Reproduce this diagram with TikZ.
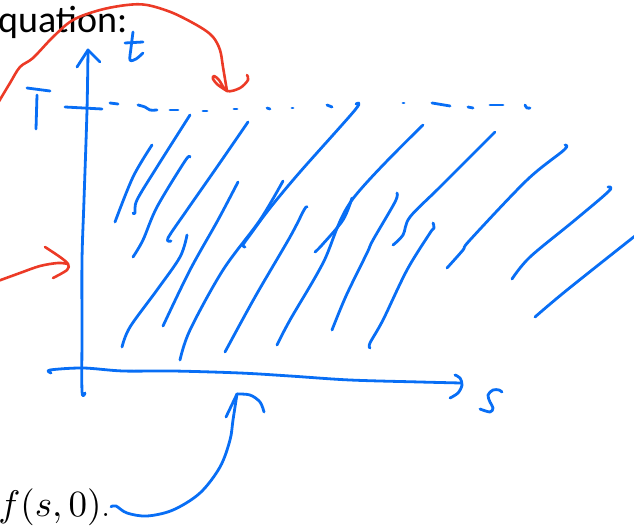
\documentclass[tikz,border=0pt]{standalone}
\usepackage{fontspec}
\DeclareFontShape{OML}{cmm}{m}{it}{<->cmmi10}{}
\DeclareFontShape{OT1}{cmr}{m}{n}{<->cmr10}{}
\DeclareFontShape{OMS}{cmsy}{m}{n}{<->cmsy10}{}
\newfontfamily\slidefont{Carlito}
\definecolor{inkblue}{RGB}{8,110,245}
\definecolor{inkred}{RGB}{236,58,38}
\tikzset{
  pen/.style={draw=inkblue, line width=2.8pt, line cap=round, line join=round},
  redpen/.style={draw=inkred, line width=2.6pt, line cap=round, line join=round},
  sm/.style={smooth, tension=0.55}
}
\begin{document}
\begin{tikzpicture}[x=1pt,y=-1pt]
\useasboundingbox (0,0) rectangle (634,526);
% texts
\node[anchor=base west, inner sep=0pt] (eq) at (-2,33) {\slidefont\fontsize{38}{42}\selectfont quation:};
\node[anchor=base east, inner sep=0pt] (fs) at (111,516) {\fontsize{37}{42}\selectfont $f(s,0)$.};
% vertical axis
\draw[pen] plot[sm] coordinates {(88,50) (87,110) (84,200) (82,260) (82,330) (82,391) (85,393)};
\draw[pen] (77,67) -- (88,50) -- (100,62);
% t label
\draw[pen] plot[sm] coordinates {(133,32) (131,48) (130,60) (136,59) (143,53)};
\draw[pen] (125,43) -- (143,42);
% T label
\draw[pen] (27,88) -- (50,91);
\draw[pen] (37,95) -- (36,129);
\draw[pen] (65,107) -- (102,109);
% dashed T level
\draw[pen] (110,103) -- (118,104);
\draw[pen] plot[sm] coordinates {(138,105) (145,107) (150,110) (157,110)};
\draw[pen] (170,110) -- (178,110);
\draw[pen] (203,111) -- (207,111);
\draw[pen] (234,109) -- (237,109);
\draw[pen] (267,108) -- (270,109);
\draw[pen] (292,108) -- (293,108);
\draw[pen] (327,105) -- (332,107);
\draw[pen] (403,103) -- (404,103);
\draw[pen] (432,103) -- (450,106);
\draw[pen] (468,107) -- (473,108);
\draw[pen] (490,105) -- (503,105);
\draw[pen] plot[sm] coordinates {(525,105) (527,108) (530,108)};
% horizontal axis
\draw[pen] plot[sm] coordinates {(51,373) (50,370) (83,368) (123,371) (173,371) (240,373) (290,376) (350,380) (420,382) (461,383)};
\draw[pen] plot[sm] coordinates {(455,375) (460,378) (462,385) (458,393) (450,398)};
\coordinate (sax) at (237,394);
% s label
\draw[pen] plot[sm] coordinates {(502,392) (499,390) (493,390) (488,395) (490,402) (493,408) (490,412) (480,409)};
% hatch strokes
\draw[pen] plot[sm] coordinates {(115,222) (133,177) (152,145)};
\draw[pen] plot[sm] coordinates {(133,213) (135,213) (137,200) (157,167) (190,115)};
\draw[pen] plot[sm] coordinates {(190,157) (185,161) (157,207) (143,240) (133,257)};
\draw[pen] plot[sm] coordinates {(248,122) (217,167) (187,210) (168,238) (171,241)};
\draw[pen] plot[sm] coordinates {(187,235) (180,257) (157,290) (130,327) (122,347)};
\draw[pen] plot[sm] coordinates {(238,182) (218,220) (190,270) (163,326)};
\draw[pen] plot[sm] coordinates {(283,181) (260,220) (223,270) (190,330) (180,360)};
\draw[pen] plot[sm] coordinates {(356,104) (355,110) (300,172) (270,208) (250,235) (243,245) (245,247)};
\draw[pen] plot[sm] coordinates {(307,207) (304,210) (290,237) (255,297) (225,352)};
\draw[pen] plot[sm] coordinates {(423,125) (352,200) (323,263) (290,320) (277,345)};
\draw[pen] plot[sm] coordinates {(352,198) (343,220) (322,245) (315,252)};
\draw[pen] plot[sm] coordinates {(397,193) (395,202) (373,240) (367,253) (346,296) (332,330)};
\draw[pen] plot[sm] coordinates {(495,132) (440,187) (410,217) (403,235) (393,245)};
\draw[pen] plot[sm] coordinates {(433,223) (434,228) (430,233) (407,270) (383,320) (370,343) (370,348)};
\draw[pen] plot[sm] coordinates {(565,145) (564,150) (527,180) (470,240) (463,250) (447,268)};
\draw[pen] plot[sm] coordinates {(608,187) (609,191) (575,220) (530,257) (512,279)};
\draw[pen] plot[sm] coordinates {(640,232) (567,290) (535,317)};
% blue arrow from f(s,0)
\draw[pen] plot[sm] coordinates {(fs.east) (116,506) (127,513) (147,516) (173,510) (200,493) (220,467) (230,440) (233,420) (sax)};
\draw[pen] (226,417) -- (sax);
\draw[pen] plot[sm] coordinates {(sax) (250,395) (260,402) (264,412)};
% red arc
\coordinate (rtip) at (227,91);
\draw[redpen] plot[sm] coordinates {(-2,103) (10,83) (20,67) (33,58) (53,37) (73,20) (100,10) (127,5) (147,5) (173,13) (200,27) (213,37) (220,50) (223,67) (rtip)};
\draw[redpen] plot[sm] coordinates {(rtip) (218,85) (213,79) (214,76) (219,80) (rtip) (240,88) (248,80) (247,75)};
% red lower arrow
\coordinate (rtip2) at (68,264);
\draw[redpen] plot[sm] coordinates {(-2,281) (20,273) (40,266) (58,263) (rtip2)};
\draw[redpen] plot[sm] coordinates {(45,247) (60,257) (rtip2) (67,270) (53,278)};
\end{tikzpicture}
\end{document}
